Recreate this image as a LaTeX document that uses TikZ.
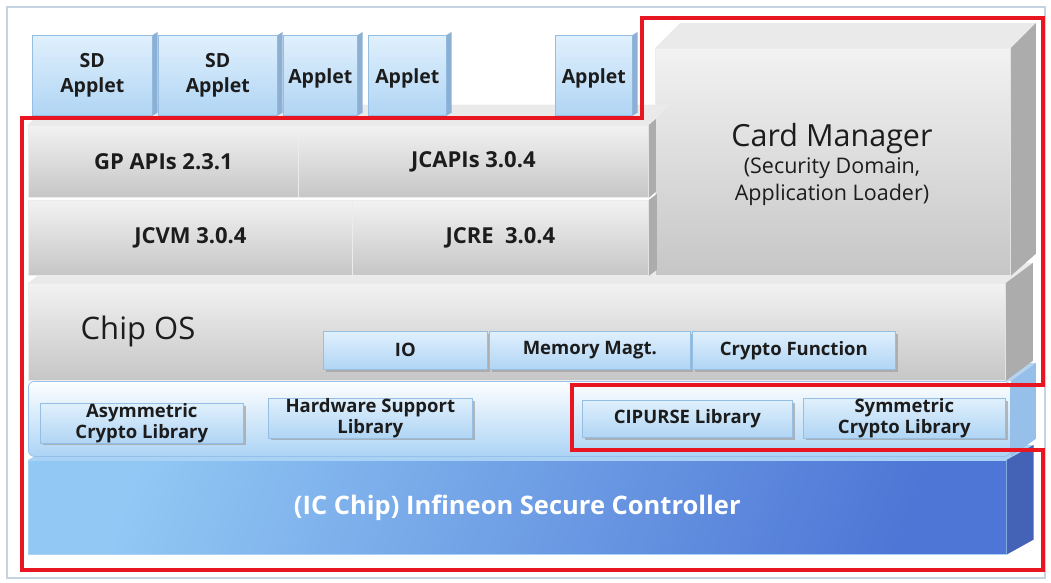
\documentclass[tikz,border=0pt]{standalone}
\usepackage{fontspec}
\setmainfont{Open Sans}
\usetikzlibrary{shadows}
\definecolor{frameC}{RGB}{198,212,226}
\definecolor{redC}{RGB}{232,22,32}
\definecolor{grayTop}{RGB}{242,242,242}
\definecolor{grayBot}{RGB}{198,198,198}
\definecolor{graySide}{RGB}{172,172,172}
\definecolor{grayLid}{RGB}{234,234,234}
\definecolor{blueTop}{RGB}{224,240,253}
\definecolor{blueBot}{RGB}{176,213,244}
\definecolor{blueSide}{RGB}{140,176,212}
\definecolor{blueEdge}{RGB}{150,190,226}
\definecolor{chipL}{RGB}{145,200,244}
\definecolor{chipR}{RGB}{78,118,214}
\definecolor{chipSide}{RGB}{68,98,182}
\definecolor{chipLid}{RGB}{170,210,245}
\definecolor{libTop}{RGB}{253,254,255}
\definecolor{libBot}{RGB}{172,212,245}
\definecolor{libSide}{RGB}{150,192,234}
\definecolor{txt}{RGB}{28,28,28}
\tikzset{
  grayfront/.style={draw=white!85!gray, line width=0.8, top color=grayTop, bottom color=grayBot,
    anchor=north west, inner sep=0, text=txt},
  grayside/.style={fill=graySide},
  graylid/.style={fill=grayLid, draw=white!85!gray, line width=0.6},
  appletbox/.style={draw=blueEdge, line width=0.6, top color=blueTop, bottom color=blueBot,
    anchor=north west, inner sep=0, align=center, text=txt,
    font=\fontsize{19.5}{25}\selectfont\bfseries,
    execute at begin node={\rule{0pt}{21pt}}},
  appletside/.style={fill=blueSide},
  modbox/.style={draw=blueEdge, line width=0.6, top color=blueTop, bottom color=blueBot,
    anchor=north west, inner sep=0, align=center, text=txt,
    font=\fontsize{18.5}{21}\selectfont\bfseries,
    drop shadow={shadow xshift=2.5pt, shadow yshift=-2.5pt, fill=gray!75, opacity=0.7}},
  layerlabel/.style={font=\fontsize{22}{25}\selectfont\bfseries},
  redline/.style={draw=redC, line width=3.6, line join=miter},
}
\begin{document}
\begin{tikzpicture}[x=1pt,y=-1pt]
\useasboundingbox (0,0) rectangle (1051,582);
\fill[white] (0,0) rectangle (1051,582);
\draw[frameC, line width=1.2] (7,7) rectangle (1045,578);

% ---------- IC chip layer ----------
\node[anchor=north west, inner sep=0, minimum width=978, minimum height=94,
      left color=chipL, right color=chipR, shading angle=70, draw=chipL!80!white, line width=0.6,
      text=white, font=\fontsize{25.5}{29}\selectfont\bfseries] (chip) at (28,460)
      {(IC Chip) Infineon Secure Controller};
\fill[chipLid] (chip.north west) -- ([shift={(27,-15)}]chip.north west)
   -- ([shift={(27,-15)}]chip.north east) -- (chip.north east) -- cycle;
\fill[chipSide] (chip.north east) -- ([shift={(27,-15)}]chip.north east)
   -- ([shift={(27,-15)}]chip.south east) -- (chip.south east) -- cycle;

% ---------- Library layer ----------
\node[anchor=north west, inner sep=0, minimum width=982, minimum height=75,
      top color=libTop, bottom color=libBot, draw=libSide, line width=0.8,
      rounded corners=6] (lib) at (28,381) {};
\fill[libSide!70!white] (lib.north west) -- ([shift={(25,-18)}]lib.north west)
   -- ([shift={(25,-18)}]lib.north east) -- (lib.north east) -- cycle;
\fill[libSide] (lib.north east) -- ([shift={(25,-18)}]lib.north east)
   -- ([shift={(25,-18)}]lib.south east) -- (lib.south east) -- cycle;
\node[modbox, minimum width=203, minimum height=37] (asym) at (40,403) {Asymmetric\\Crypto Library};
\node[modbox, minimum width=204, minimum height=37] (hws) at (268,398) {Hardware Support\\Library};
\node[modbox, minimum width=210, minimum height=37] (cip) at (582,400) {CIPURSE Library};
\node[modbox, minimum width=202, minimum height=37] (sym) at (803,398) {Symmetric\\Crypto Library};

% ---------- Chip OS layer ----------
\node[grayfront, minimum width=977, minimum height=97] (os) at (28,283) {};
\fill[grayLid] (os.north west) -- ([shift={(27,-20)}]os.north west)
   -- ([shift={(27,-20)}]os.north east) -- (os.north east) -- cycle;
\fill[grayside] (os.north east) -- ([shift={(27,-20)}]os.north east)
   -- ([shift={(27,-20)}]os.south east) -- (os.south east) -- cycle;
\node[anchor=center, text=txt, font=\fontsize{31}{34}\selectfont] (oslabel) at (138,331) {Chip OS};
\node[modbox, minimum width=164, minimum height=38] (io) at (323,331) {IO};
\node[modbox, minimum width=201, minimum height=38] (mem) at (489,331) {Memory Magt.};
\node[modbox, minimum width=203, minimum height=38] (cf) at (692,331) {Crypto Function};

% ---------- Card Manager ----------
\node[grayfront, minimum width=355, minimum height=227] (cm) at (655,48) {};
\fill[grayLid] (cm.north west) -- ([shift={(25,-25)}]cm.north west)
   -- ([shift={(25,-25)}]cm.north east) -- (cm.north east) -- cycle;
\fill[grayside] (cm.north east) -- ([shift={(25,-25)}]cm.north east)
   -- ([shift={(25,-22)}]cm.south east) -- (cm.south east) -- cycle;
\node[text=txt, align=center, font=\fontsize{21.5}{27}\selectfont] (cmtext) at (832,164)
   {{\fontsize{30.5}{34}\selectfont Card Manager}\\[0pt](Security Domain,\\Application Loader)};

% ---------- JCVM / JCRE layer ----------
\node[grayfront, minimum width=324, minimum height=75, layerlabel] (jcvm) at (28,200) {JCVM 3.0.4};
\node[grayfront, minimum width=296, minimum height=75, layerlabel] (jcre) at (352,200) {JCRE~ 3.0.4};
\fill[grayside] (jcre.north east) -- ([shift={(8,-6)}]jcre.north east)
   -- ([shift={(8,-6)}]jcre.south east) -- (jcre.south east) -- cycle;

% ---------- GP / JCAPIs layer ----------
\node[grayfront, minimum width=270, minimum height=72, layerlabel] (gp) at (28,125) {GP APIs 2.3.1};
\node[grayfront, minimum width=350, minimum height=72, layerlabel] (jcapi) at (298,125) {JCAPIs 3.0.4};
\fill[graylid] (gp.north west) -- ([shift={(20,-20)}]gp.north west)
   -- ([shift={(20,-20)}]jcapi.north east) -- (jcapi.north east) -- cycle;
\fill[grayside] (jcapi.north east) -- ([shift={(7,-6)}]jcapi.north east)
   -- ([shift={(7,-6)}]jcapi.south east) -- (jcapi.south east) -- cycle;

% ---------- Applets ----------
\node[appletbox, minimum width=120, minimum height=80] (sd1) at (32,35) {SD\\Applet};
\node[appletbox, minimum width=119, minimum height=80] (sd2) at (158,35) {SD\\Applet};
\node[appletbox, minimum width=74, minimum height=80] (ap3) at (283,35) {Applet};
\node[appletbox, minimum width=78, minimum height=80] (ap4) at (368,35) {Applet};
\node[appletbox, minimum width=77, minimum height=80] (ap5) at (555,35) {Applet};
\foreach \n in {sd1,sd2,ap3,ap4,ap5}{
  \fill[appletside] (\n.north east) -- ([shift={(5,-3)}]\n.north east)
     -- ([shift={(5,-3)}]\n.south east) -- (\n.south east) -- cycle;
}

% ---------- red outline ----------
\draw[redline] (22,118) -- (642,118) -- (642,18) -- (1043,18) -- (1043,385)
   -- (572,385) -- (572,450) -- (1043,450) -- (1043,570) -- (22,570) -- cycle;
\end{tikzpicture}
\end{document}
